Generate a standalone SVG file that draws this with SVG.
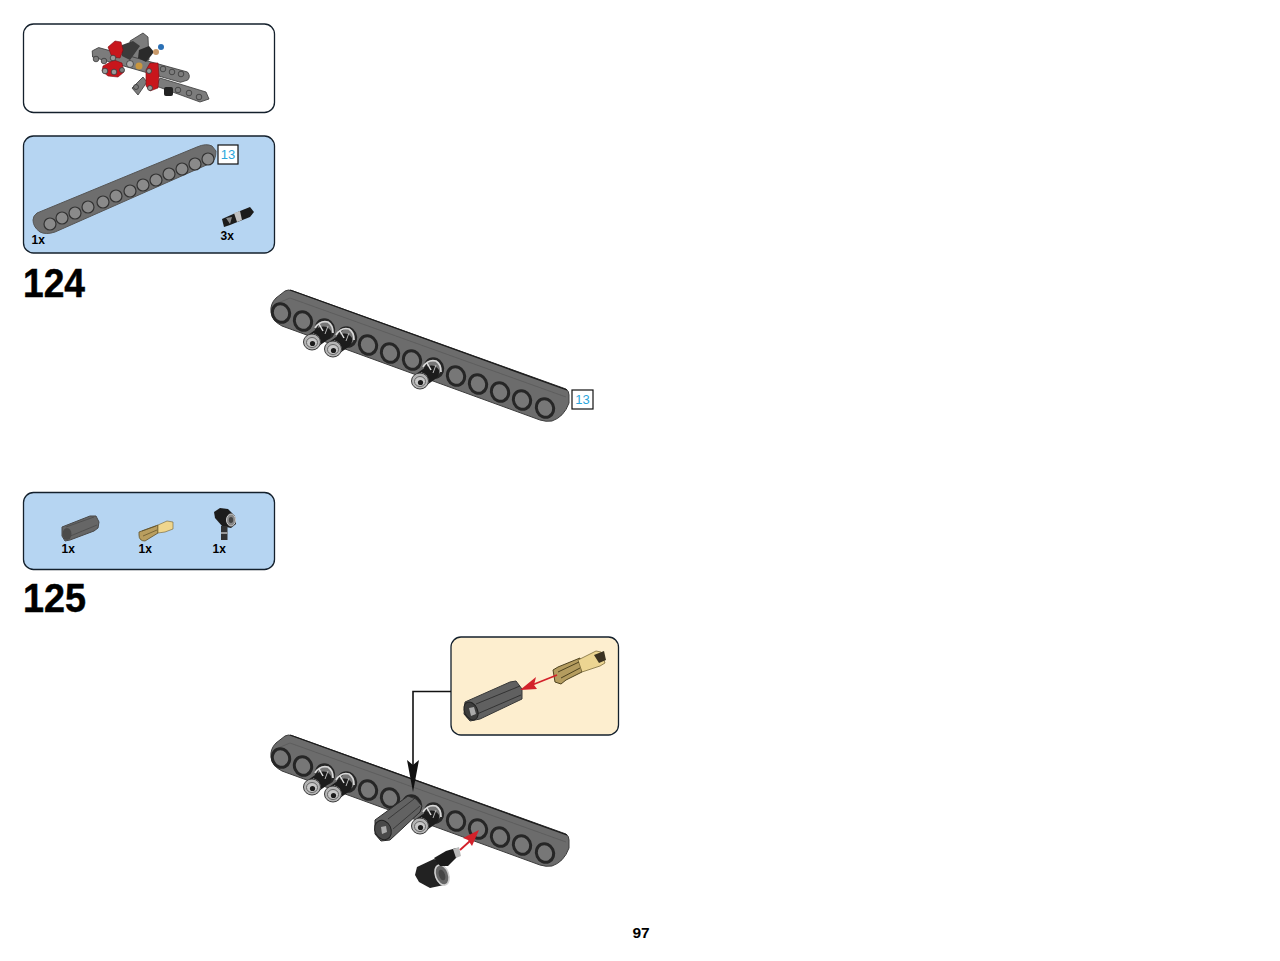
<svg xmlns="http://www.w3.org/2000/svg" xmlns:xlink="http://www.w3.org/1999/xlink" width="1280" height="961" viewBox="0 0 1280 961">
<style>
.panel{stroke:#14202c;stroke-width:1.3}
.blue{fill:#b6d5f2}
.cream{fill:#fdeecf}
.t{font-family:"Liberation Sans",Arial,sans-serif;font-weight:700;fill:#000}
.qty{font-size:12px}
.step{font-size:40px;stroke:#000;stroke-width:.5}
.ref{font-family:"Liberation Sans",Arial,sans-serif;font-size:13px;fill:#2ba6dc;text-anchor:middle}
.box{fill:#fff;stroke:#111;stroke-width:1.2}
.hole{fill:#777;stroke:#262626;stroke-width:3}
.beam{fill:#6c6c6c;stroke:#3c3c3c;stroke-width:1}
.red{fill:#c8141e;stroke:#7a0d12;stroke-width:.6}
.g{fill:#7c7c7c;stroke:#3a3a3a;stroke-width:.8}
.h{fill:#8a8a8a;stroke:#333;stroke-width:1.2}
.k{fill:#222}
.soft{filter:url(#soft)}
</style>
<defs>
<filter id="soft" x="-5%" y="-5%" width="110%" height="110%"><feGaussianBlur stdDeviation="0.5"/></filter>
<g id="bigbeam">
<path class="beam" d="M271 312Q270 304 276 298L285 291Q288 289 293 291L566 389Q569 391 569 395L569 403Q564 417 552 421Q546 422 540 420L282 326Q272 321 271 312Z"/>
<path d="M290 290L567 390" stroke="#1c1c1c" stroke-width="1.300" fill="none"/>
<path d="M278 303L290 298L566 397" stroke="#5e5e5e" stroke-width="1" fill="none"/>
<g>
<ellipse class="hole" cx="281" cy="313" rx="8.500" ry="9.500" transform="rotate(-25 281 313)"/>
<ellipse class="hole" cx="303" cy="321" rx="8.500" ry="9.500" transform="rotate(-25 303 321)"/>
<ellipse class="hole" cx="325" cy="329" rx="8.500" ry="9.500" transform="rotate(-25 325 329)"/>
<ellipse class="hole" cx="347" cy="337" rx="8.500" ry="9.500" transform="rotate(-25 347 337)"/>
<ellipse class="hole" cx="368" cy="345" rx="8.500" ry="9.500" transform="rotate(-25 368 345)"/>
<ellipse class="hole" cx="390" cy="353" rx="8.500" ry="9.500" transform="rotate(-25 390 353)"/>
<ellipse class="hole" cx="412" cy="360" rx="8.500" ry="9.500" transform="rotate(-25 412 360)"/>
<ellipse class="hole" cx="434" cy="368" rx="8.500" ry="9.500" transform="rotate(-25 434 368)"/>
<ellipse class="hole" cx="456" cy="376" rx="8.500" ry="9.500" transform="rotate(-25 456 376)"/>
<ellipse class="hole" cx="478" cy="384" rx="8.500" ry="9.500" transform="rotate(-25 478 384)"/>
<ellipse class="hole" cx="500" cy="392" rx="8.500" ry="9.500" transform="rotate(-25 500 392)"/>
<ellipse class="hole" cx="522" cy="400" rx="8.500" ry="9.500" transform="rotate(-25 522 400)"/>
<ellipse class="hole" cx="545" cy="408" rx="8.500" ry="9.500" transform="rotate(-25 545 408)"/>
</g>
</g>
<g id="peg">
<path d="M-4 -7L6 -14Q14 -18 19 -11Q20 -5 14 -1L4 6Z" fill="#1b1b1b"/>
<path d="M3 -14Q8 -22 16 -20Q21 -17 21 -9" fill="none" stroke="#d8d8d8" stroke-width="1.800"/>
<path d="M7 -18L11 -11" stroke="#e2e2e2" stroke-width="1.500"/>
<path d="M16 -16L13 -8" stroke="#bbb" stroke-width="1"/>
<path d="M1 -8Q8 -6 8 2" fill="none" stroke="#c8c8c8" stroke-width="1.500"/>
<ellipse cx="0" cy="0" rx="8.500" ry="8" fill="#b4b4b4" stroke="#3b3b3b"/>
<ellipse cx="0" cy="0.500" rx="5.500" ry="5" fill="#c8c8c8" stroke="#666"/>
<circle cx="0.500" cy="1.500" r="2.600" fill="#1e1e1e"/>
</g>
</defs>

<g id="step-123-result">
<rect class="panel" x="23.500" y="24" width="251" height="88.500" rx="10" fill="#fff"/>
<g class="soft">
<path class="g" d="M130 41L143 33L148 37L149 60L132 62Z"/>
<path class="g" d="M91 56L97 52L188 67Q192 71 189 75L182 78L92 62Z" transform="rotate(6 140 65)"/>
<path class="g" d="M160 78L206 92L209 99L200 102L156 86Z"/>
<path class="g" d="M132 88L143 77L147 82L138 95Z"/>
<path d="M122 45L133 41L140 46L130 60L122 56Z" fill="#3a3a3a"/>
<path d="M139 50L149 46L154 52L146 62L138 58Z" fill="#2b2b2b"/>
<circle cx="161" cy="47" r="3" fill="#2b6fb5"/>
<circle cx="156" cy="52" r="3" fill="#c99a6b"/>
<path class="red" d="M108 47L115 41L121 42L123 50L120 58L112 57Z"/>
<path class="red" d="M103 66L114 60L122 63L124 72L118 77L108 76L102 71Z"/>
<path class="red" d="M146 70L150 63L158 63L159 76L158 88L150 91L146 86Z"/>
<circle class="g" cx="105" cy="71" r="2.800" style="fill:#999"/>
<circle class="g" cx="114" cy="72" r="2.800" style="fill:#999"/>
<circle class="g" cx="113" cy="58" r="2.800" style="fill:#999"/>
<circle class="g" cx="149" cy="71" r="2.500" style="fill:#999"/>
<circle class="g" cx="150" cy="88" r="2.500" style="fill:#999"/>
<circle class="g" cx="130" cy="64" r="3.500" style="fill:#aaa"/>
<circle cx="139" cy="66" r="3.500" fill="#c9963e"/>
<circle class="g" cx="122" cy="70" r="2.500"/>
<rect x="164" y="87" width="9" height="9" rx="2" fill="#222"/>
<circle class="g" cx="178" cy="90" r="2.800"/><circle class="g" cx="189" cy="93" r="2.800"/><circle class="g" cx="199" cy="97" r="2.800"/>
<circle class="g" cx="96" cy="59" r="2.800"/><circle class="g" cx="104" cy="61" r="2.800"/>
<circle class="g" cx="163" cy="69" r="2.800"/><circle class="g" cx="172" cy="72" r="2.800"/><circle class="g" cx="181" cy="74" r="2.800"/>
<circle class="g" cx="136" cy="87" r="2.500"/>
</g>
</g>

<g id="parts-124">
<rect class="panel blue" x="23.500" y="136" width="251" height="117" rx="10"/>
<g class="soft">
<path d="M33 220Q33 216 37 213L197 147Q206 143 212 146L216 151Q216 160 211 163L55 232Q46 235 40 232Q33 227 33 220Z" fill="#6e6e6e" stroke="#555"/>
<g class="h">
<ellipse cx="50" cy="224" rx="6" ry="6"/><ellipse cx="62" cy="218" rx="6" ry="6"/><ellipse cx="75" cy="213" rx="6" ry="6"/><ellipse cx="88" cy="207" rx="6" ry="6"/><ellipse cx="103" cy="202" rx="6" ry="6"/><ellipse cx="116" cy="196" rx="6" ry="6"/><ellipse cx="130" cy="191" rx="6" ry="6"/><ellipse cx="143" cy="185" rx="6" ry="6"/><ellipse cx="156" cy="180" rx="6" ry="6"/><ellipse cx="169" cy="174" rx="6" ry="6"/><ellipse cx="182" cy="169" rx="6" ry="6"/><ellipse cx="195" cy="164" rx="6" ry="6"/><ellipse cx="208" cy="159" rx="6" ry="6"/>
</g>
<path d="M222 219L240 211L250 207L254 212L250 217L230 225L224 227Z" fill="#1b1b1b"/>
<path d="M234 213L240 211L242 220L237 222Z" fill="#c0c0c0"/>
<path d="M226 218L232 217L230 224Z" fill="#888"/>
</g>
<rect class="box" x="218" y="145" width="20" height="19"/>
<text class="ref" x="228" y="159">13</text>
<text class="t qty" x="31.500" y="244">1x</text>
<text class="t qty" x="220.500" y="240">3x</text>
</g>
<text id="step-124" class="t step" x="23" y="297" textLength="62" lengthAdjust="spacingAndGlyphs">124</text>

<g id="assembly-124">
<g class="soft">
<use xlink:href="#bigbeam"/>
<use xlink:href="#peg" x="312" y="342"/>
<use xlink:href="#peg" x="333" y="349"/>
<use xlink:href="#peg" x="420" y="381"/>
</g>
<rect class="box" x="572" y="390" width="21" height="19"/>
<text class="ref" x="582.500" y="404">13</text>
</g>

<g id="parts-125">
<rect class="panel blue" x="23.500" y="492.500" width="251" height="77" rx="10"/>
<g class="soft">
<path d="M62 527L90 516L96 516L99 522L98 528L94 531L70 540L65 541L62 536Z" fill="#666" stroke="#484848"/>
<path d="M66 527L94 517M68 537L97 525" stroke="#4a4a4a" stroke-width=".8"/>
<ellipse cx="67" cy="534" rx="4.500" ry="6" fill="#4c4c4c"/>
<path d="M139 532L158 525L158 533L145 541Q139 541 139 535Z" fill="#b99e5e" stroke="#5e4f28" stroke-width=".8"/>
<path d="M142 531L156 526M143 536L157 530" stroke="#5e4f28" stroke-width=".7"/>
<path d="M158 525L167 521L173 522L173 529L165 532L158 533Z" fill="#efd68e" stroke="#6e5e30" stroke-width=".6"/>
<path d="M214 512L220 508L228 509L235 516L236 524L231 528L222 526L215 518Z" fill="#1e1e1e"/>
<ellipse cx="231" cy="520" rx="4.500" ry="6" fill="#888" stroke="#ccc"/>
<ellipse cx="231" cy="520" rx="2.200" ry="3" fill="#444"/>
<rect x="221" y="526" width="6.500" height="14" fill="#333"/>
<rect x="221" y="532" width="6.500" height="2" fill="#999"/>
</g>
<text class="t qty" x="61.500" y="553">1x</text>
<text class="t qty" x="138.500" y="553">1x</text>
<text class="t qty" x="212.500" y="553">1x</text>
</g>
<text id="step-125" class="t step" x="23" y="612" textLength="63" lengthAdjust="spacingAndGlyphs">125</text>

<g id="callout">
<rect class="panel cream" x="451" y="637" width="167.500" height="98" rx="10"/>
<g class="soft">
<path d="M465 702L510 682L516 681L522 689L522 699L480 719L470 721L464 714Z" fill="#606060" stroke="#383838"/>
<path d="M476 704L520 686M477 714L521 695" stroke="#333"/>
<ellipse cx="471" cy="711" rx="6.500" ry="9.500" fill="#3c3c3c" stroke="#222" transform="rotate(-25 471 711)"/>
<path d="M469 708L474 707L476 714L471 716Z" fill="#aaa"/>
<path d="M553 670L558 667L580 658L582 672L566 680L561 684L555 682Z" fill="#b49c5e" stroke="#4e4220"/>
<path d="M578 660L596 651L601 652L605 663L600 666L582 672Z" fill="#ecd592" stroke="#6a5a2c" stroke-width=".7"/>
<path d="M558 672L579 662M561 678L580 668" stroke="#4e4220"/>
<path d="M594 655L604 651L606 660L599 663Z" fill="#3a3320"/>
<path d="M557 675L532 685" stroke="#d3202a" stroke-width="1.800"/>
<path d="M520 690L536 677L534 685L537 689Z" fill="#d3202a"/>
</g>
</g>

<g id="assembly-125">
<g class="soft">
<use xlink:href="#bigbeam" y="445"/>
<use xlink:href="#peg" x="312" y="787"/>
<use xlink:href="#peg" x="333" y="794"/>
<use xlink:href="#peg" x="420" y="826"/>
<path d="M375 820L408 796L416 799L422 806L420 812L390 840L381 841L375 834Z" fill="#626262" stroke="#2c2c2c"/>
<path d="M388 819L414 799M393 829L420 806" stroke="#3a3a3a"/>
<ellipse cx="383" cy="830" rx="8" ry="10" fill="#4a4a4a" stroke="#222" transform="rotate(-25 383 830)"/>
<path d="M381 827L386 826L387 832L382 834Z" fill="#aaa"/>
<path d="M417 867L434 859L442 862L449 875L444 885L430 888L419 882L415 875Z" fill="#202020"/>
<ellipse cx="442" cy="875" rx="6.500" ry="10.500" fill="#666" stroke="#d0d0d0" stroke-width="1.600" transform="rotate(-20 442 875)"/>
<ellipse cx="442" cy="875" rx="3" ry="5.500" fill="#444" transform="rotate(-20 442 875)"/>
<path d="M434 858L446 851L456 848L458 856L448 866L440 866Z" fill="#1d1d1d"/>
<path d="M453 849L459 847L461 856L456 858Z" fill="#bbb"/>
<path d="M460 850L470 841" stroke="#d3202a" stroke-width="1.800"/>
<path d="M479 830L472 846L468 840L463 838Z" fill="#d3202a"/>
</g>
</g>

<g id="connectors">
<path d="M451 691.500H413V770" fill="none" stroke="#111" stroke-width="1.600"/>
<path d="M407 760L413 765L419 760L413 792Z" fill="#111"/>
</g>

<text id="page" class="t" x="641" y="938" font-size="15.500" text-anchor="middle">97</text>
</svg>
